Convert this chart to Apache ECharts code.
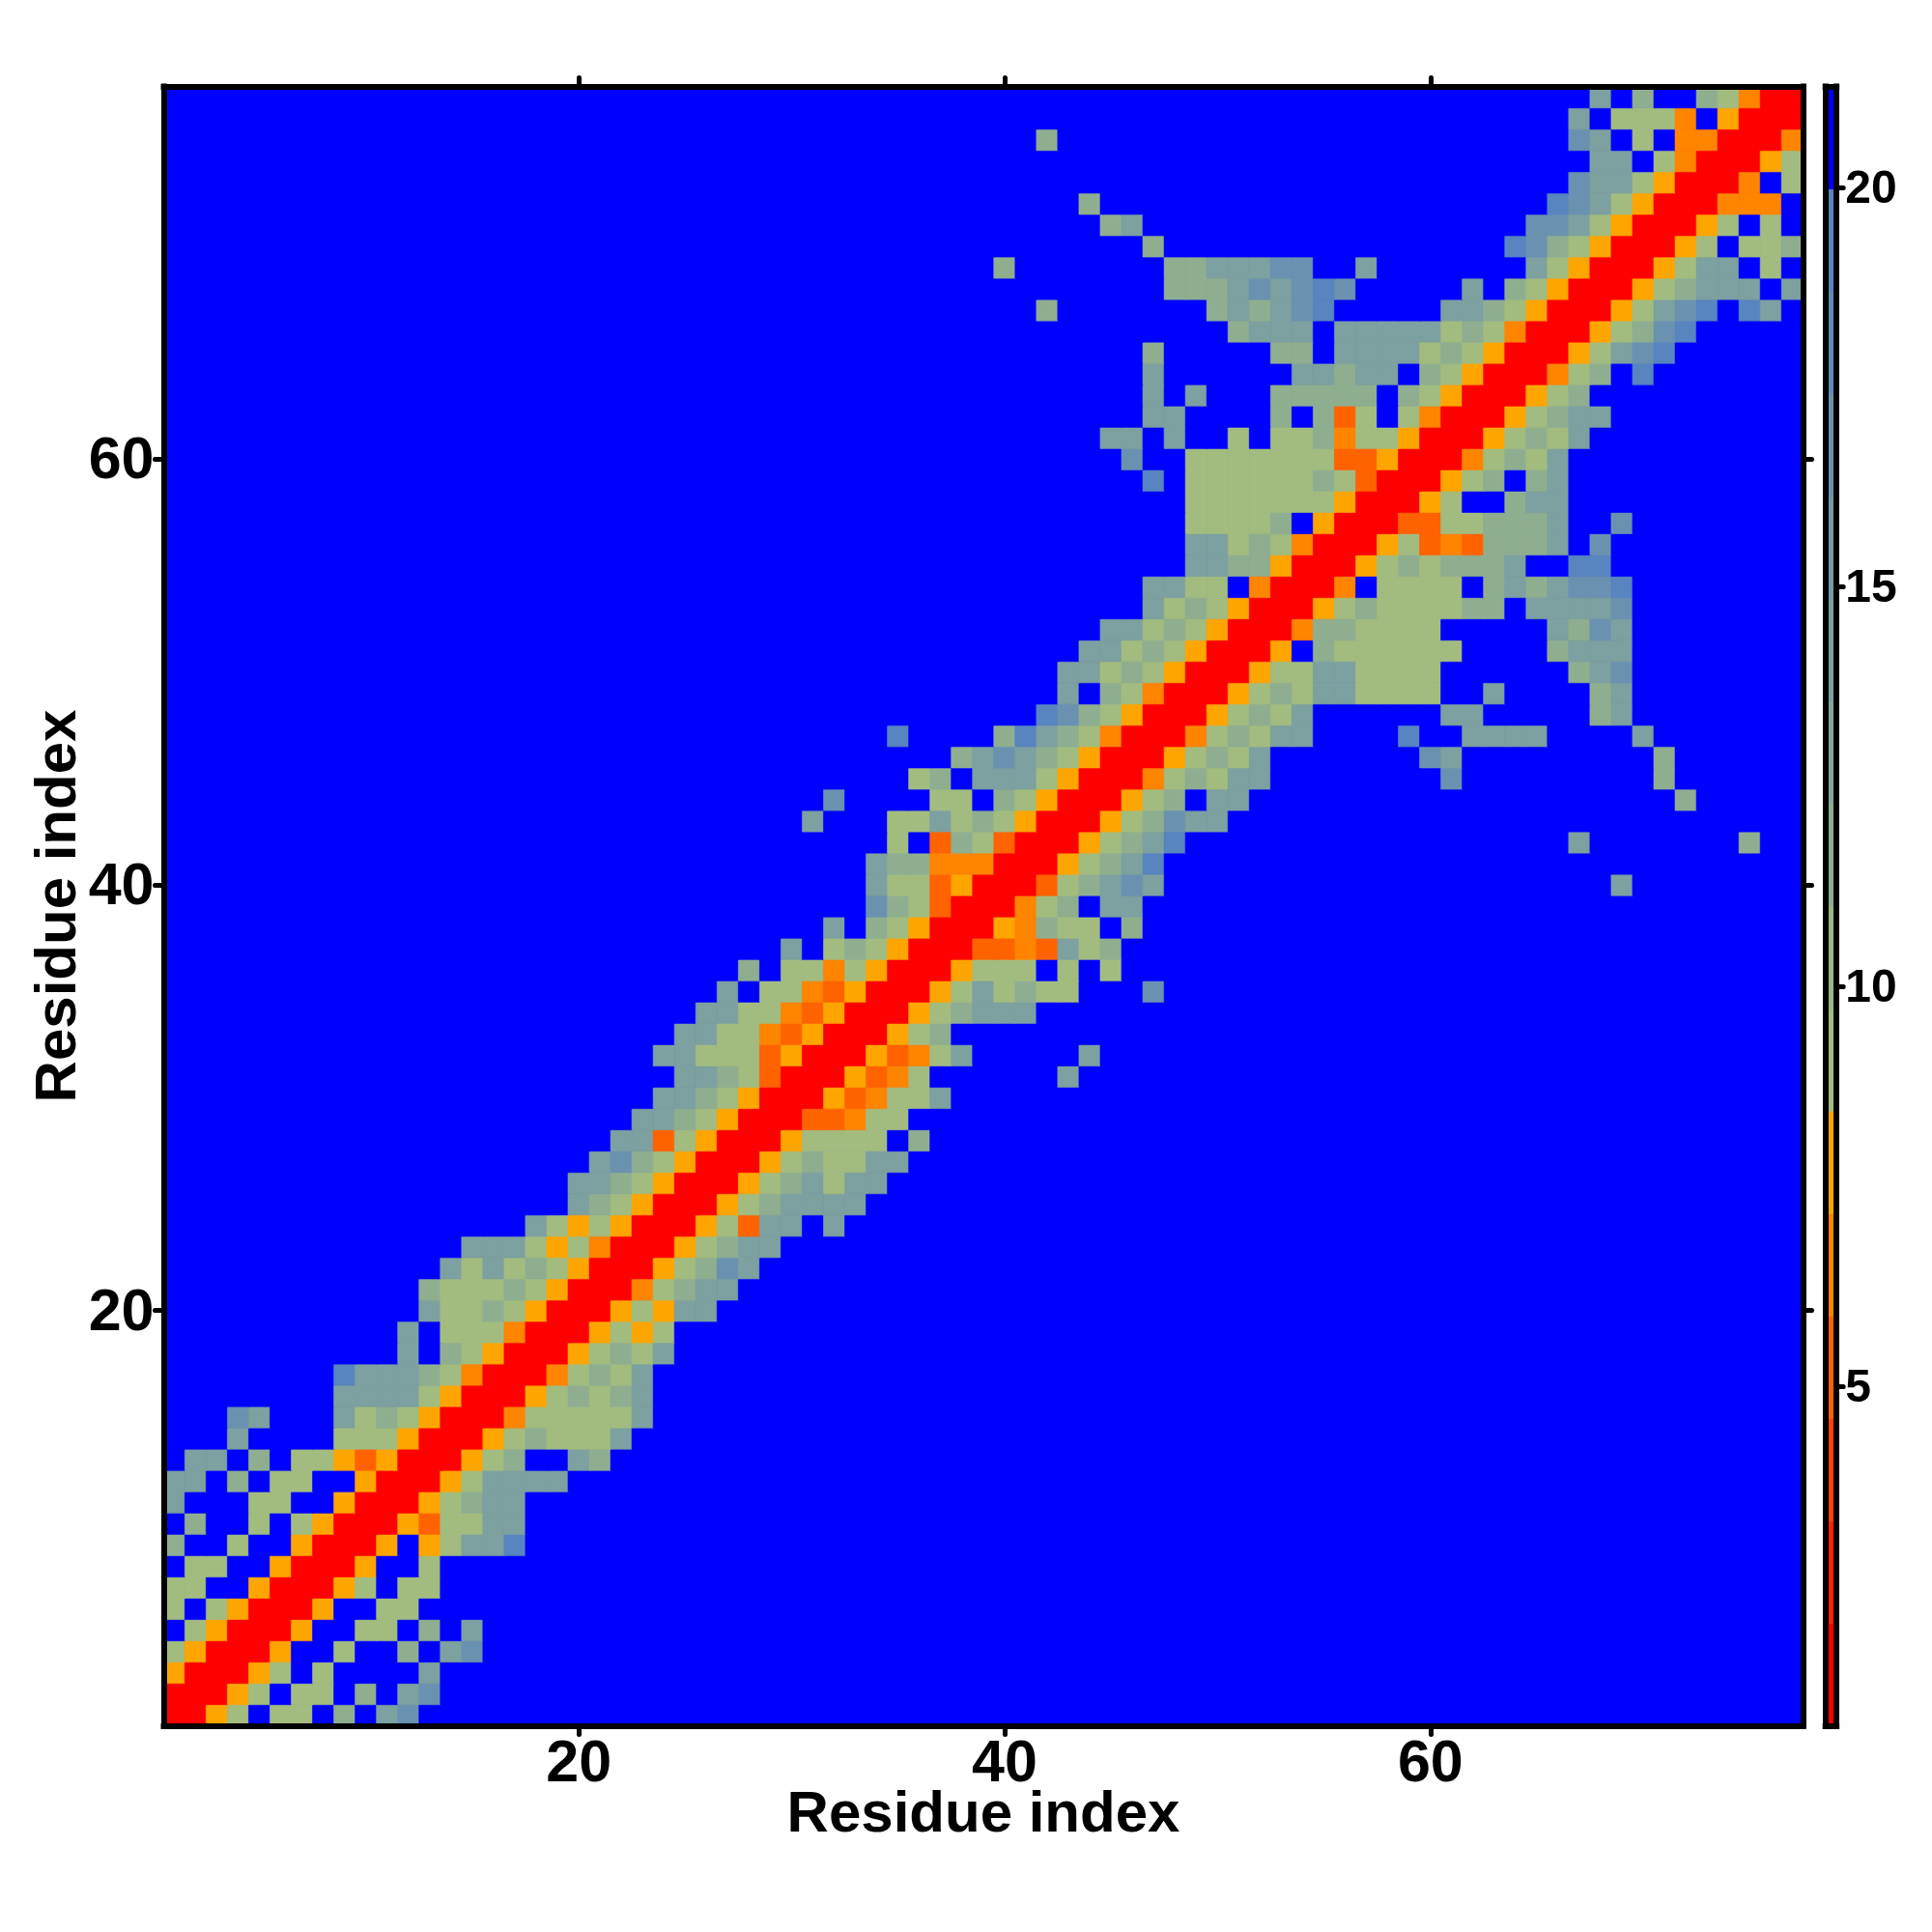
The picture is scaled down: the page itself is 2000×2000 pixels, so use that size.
<!DOCTYPE html>
<html><head><meta charset="utf-8">
<style>html,body{margin:0;padding:0;background:#fff}#c{width:2000px;height:2000px}</style>
<script src="https://cdn.jsdelivr.net/npm/echarts@6/dist/echarts.min.js"></script>
</head><body><div id="c"></div>
<script>
// Distance-map values are read in bins. Codes stand for one value per colour bin.
const codeValues = {r:1.4, D:5.2, O:6.5, o:7.8, a:9, b:11.6, c:14.2, d:16.8, e:19.3, '.':21};
const binEdges = [0.76,2.04,3.32,4.6,5.88,7.17,8.45,9.73,11,12.3,13.6,14.9,16.2,17.4,18.7,20,21.26];
const binColors = ['#ff0000','#ff2100','#ff4200','#ff6300','#ff8400','#ffa500',
  '#a2bc80','#99b588','#8fae90','#86a798','#7da0a0','#7499a8','#6a92b0','#618bb8','#5884c0','#0000ff'];
const residueCount = 77;
const tickResidues = [20,40,60];
const colorbarTicks = [5,10,15,20];
const axisTitle = 'Residue index';

// Each block: first column, top row, then rows from the top down.
const rowsA = ["............caabaorr","...........c.aaaOrrr","...........c.baorrro","........ecccbaOrrrOa","........ccccaorrroab",
"...dc...cabaorrrOaaa","...c....aaaorrroabaa",".cc.b.aaoDorrroab..c","cc.b.aa..orrroacccc.","c...aa..orrroabcc...",
".b..a.aorrroDaacc...","b..a..orrro.oacce...",".aa..orrro..a.......","aa..orrroa.aa.......","a.aorrro..aa........",
".aorrro..aa.b.c.....","aorrro..a..b.cd.....","orrroa.a....c.......","rrroa.aa.b.cd.......","rroa.aa.b.cd........"];
const rowsB = [".............ccbaDrr","............ccbaorrr","...........ccbaorrrD","..........ccDaorrroa",
".........cdbaorrroab","........ccbaorrroabc","........cbaorrroabcc","......caoaorrroaDcc.","...cccaoaOrrroabcc..",
"..cacabaorrroabdc...",".baaabaorrrOabcc....",".caabaorrroaocc.....","c.aaaOrrroaoa.......","c.baorrroabac.......",
"cbaOrrrOabac........","caorrroababc........","aorrrOaaaaac........","orrroabaaac.........","rrroab..cb..........","rroacccc............"];
const rowsC = ["............a.DbaDrr","...........cbbOOOrrr","...........caaDorrrD","...........dbaDrrrOa",".........c.baorrroOb",
".......c.abaorrrDDOD",".....b.aaOaorrroaaa.","....c.aaODorrroacaba","...ccaaODorrroabccc.","..ccaaODorrroab.....",
".ccaaaDorrroDOac....","..ccbaDrrroDOa......",".ccbaorrroDOaac.....","ccbaorrrDDOaa.......","cDaorrroaaaa.b......",
"baorrroabaacc.......","aorrroabcacc........","orrroabcccc.........","rrroaDcc.c..........","rroabcc............."];
const rowsD = [".............cabaorr","...........ccabaorrr","..........ccabaorrro",".........ccabaorrroa",".........c.baOrrroab",
"........edbaorrroaba",".e....becbaOrrrOabac","....bcdcbaorrroabac.","..ab.cccaorrrOabacc.","...aa.baorrroab.cc..",
".aacabaorrroabdcc...",".a.DbaDrrroabce.....","cbbOOOrrroabce......","caaDorrrDabcdc......","dbaDrrrOab.cc.......",
"baorrroObaa.b.......","aorrrDDODcab........","orrroaaa.a.a........","rrroacabaa...d......","rroabccc............"];
const rowsE = ["..c......ccbcc.baorr","..c.c...bbbbb.baorrr","..cc....b.bDa.aOrrro","cc.c..a.aabOaaorrroa",".d..aaaaaaaDDorrrOab",
"..e.aaaaaabaDrrroab.","....aaaaaaaorrroa..c","....aaaab.orrrDDaabc","....ccabaOrrroaDODbb","....ccbborrroababbbc",
"..ccaa.OrrrO.aaaa.bc","..cabaorrroabaaaabb.","ccabaorrrObbaaaa....","cabaorrro.baaaaaa...","abaorrroaaccaaaa....",
"baOrrroabaccaaaa..c.","aorrroabac......cc..","OrrrOabacc....e..ccc","rrroabac.......dc...","rrOabacc........d..."];
const rowsF = ["......b.............","....................","....................","........b...........",".........bc.........",
"...........b........","....b.......bbcccdd.","............bbbcdcde","......b.......bcbcde","...............bccc.","...........b.....bb."];
const rowsG = ["rDDaabbbc..d........","oaDODbbbc.d.........","ababbbc..ee.........","aaaa.bcbcdde........","aaaabb.ccccd........",
"aaa.....cbdc........","aaaa....bccc........","aaa......bcd........","aaa..c....bc........","...cc.....bc........",
".e..cccc....c.......","..dc.........b......","...d.........b......","..............b.....","....................",
".........c.......b..","....................","...........c........"];
const rowsH = ["..........c.b..baOrr",".........c.aaaO.orrr",".........dc.a.OOrrrO","..........cc.aOrrroa",".........dccaorrrO.a",
"........edcaorrrOOO.",".......ddcaorrroa.a.","......edbaorrroa.aab",".......caorrroacc.a.","....c.baorrroabccc.c",
"...ccbaorrroacde.ec.","cccabaOrrroabde.....","ccabaorrroacde......","c.baorrrOab.e.......",".baorrroab..........",
".aOrrroabcc.........","aorrroabac..........","orrrOabac...........","rrroab.bc...........","rroa..bcc..........."];
const looseCells = [[31,43,'c'],[32,44,'d'],[43,31,'c'],[44,32,'c'],[56,68,'d'],[57,69,'c'],[56,66,'c'],[57,66,'c'],[56,65,'c'],[57,65,'c']];
const blocks = [[1,20,rowsA],[12,31,rowsB],[23,42,rowsC],[34,53,rowsD],[45,64,rowsE],[36,75,rowsF],[58,57,rowsG],[58,77,rowsH]];

const codeGrid = [];
for (let r=0;r<residueCount;r++) codeGrid.push(new Array(residueCount).fill('.'));
blocks.forEach(([c0,rTop,rows])=>rows.forEach((s,k)=>{
  for(let i=0;i<s.length;i++){ const c=c0+i-1, rr=rTop-k-1; if(c<residueCount&&rr>=0) codeGrid[rr][c]=s[i]; }
}));
looseCells.forEach(([c,r,k])=>{codeGrid[r-1][c-1]=k;});
const colorOf=(v)=>{ for(let i=0;i<binColors.length;i++){ if(v>=binEdges[i]&&v<binEdges[i+1]) return binColors[i]; } return binColors[15]; };
const cell=(c,r,v)=>({value:[c,r,v],itemStyle:{borderColor:colorOf(v),borderWidth:0.6}});
const cells=[];
codeGrid.forEach((row,r)=>row.forEach((k,c)=>cells.push(cell(c,r,codeValues[k]))));
const residues = Array.from({length:residueCount},(_,i)=>String(i+1));
const barLevels = binColors.map((_,i)=>String(i));
const barCells = binColors.map((_,i)=>cell(0,i,(binEdges[i]+binEdges[i+1])/2));

const FONT='"Liberation Sans", Arial, sans-serif';
const BORDER={show:true,onZero:false,lineStyle:{color:'#000',width:6,cap:'square'}};
const isTick=(i)=>tickResidues.includes(i+1);
const TICK={show:true,alignWithLabel:true,interval:(i)=>isTick(i),length:9,lineStyle:{color:'#000',width:5,cap:'round'}};
const LAB={interval:(i)=>isTick(i),color:'#000',fontFamily:FONT,fontWeight:'bold',fontSize:61};
const NOLAB={show:false};
const NAME={color:'#000',fontFamily:FONT,fontWeight:'bold',fontSize:60};
const Z=20;

const chart=echarts.init(document.getElementById('c'),null,{renderer:'canvas',width:2000,height:2000});
chart.setOption({
  animation:false,
  backgroundColor:'#fff',
  grid:[
    {left:169.5,top:89.5,width:1697,height:1697,containLabel:false,outerBoundsMode:'none',show:true,backgroundColor:'#0000ff',borderWidth:0},
    {left:1889.7,top:89.5,width:11.5,height:1697,containLabel:false,outerBoundsMode:'none'}
  ],
  xAxis:[
    {type:'category',z:Z,gridIndex:0,position:'bottom',data:residues,axisLine:BORDER,axisTick:TICK,
     axisLabel:Object.assign({margin:10},LAB),splitLine:{show:false},
     name:axisTitle,nameLocation:'middle',nameGap:63,nameMoveOverlap:false,nameTextStyle:NAME},
    {type:'category',z:Z,gridIndex:0,position:'top',data:residues,axisLine:BORDER,axisTick:TICK,axisLabel:NOLAB,splitLine:{show:false}},
    {type:'category',z:Z,gridIndex:1,position:'bottom',data:[''],axisLine:BORDER,axisTick:{show:false},axisLabel:NOLAB,splitLine:{show:false}},
    {type:'category',z:Z,gridIndex:1,position:'top',data:[''],axisLine:BORDER,axisTick:{show:false},axisLabel:NOLAB,splitLine:{show:false}}
  ],
  yAxis:[
    {type:'category',z:Z,gridIndex:0,position:'left',data:residues,axisLine:BORDER,axisTick:TICK,
     axisLabel:Object.assign({margin:10,verticalAlign:'top',lineHeight:6},LAB),splitLine:{show:false},
     name:axisTitle,nameLocation:'middle',nameGap:78,nameMoveOverlap:false,nameTextStyle:NAME},
    {type:'category',z:Z,gridIndex:0,position:'right',data:residues,axisLine:BORDER,axisTick:TICK,axisLabel:NOLAB,splitLine:{show:false}},
    {type:'category',z:Z,gridIndex:1,position:'left',data:barLevels,axisLine:BORDER,axisTick:{show:false},axisLabel:NOLAB,splitLine:{show:false}},
    {type:'value',z:Z,gridIndex:1,position:'right',min:binEdges[0],max:binEdges[binEdges.length-1],axisLine:BORDER,
     axisTick:{show:true,length:7,customValues:colorbarTicks,lineStyle:{color:'#000',width:5,cap:'round'}},
     axisLabel:{show:true,customValues:colorbarTicks,margin:9,verticalAlign:'top',lineHeight:5,color:'#000',fontFamily:FONT,fontWeight:'bold',fontSize:48},
     splitLine:{show:false}}
  ],
  visualMap:{type:'piecewise',show:false,dimension:2,seriesIndex:[0,1],
    pieces:binColors.map((color,i)=>({gte:binEdges[i],lt:binEdges[i+1],color}))},
  series:[
    {type:'heatmap',xAxisIndex:0,yAxisIndex:0,data:cells,progressive:0,emphasis:{disabled:true}},
    {type:'heatmap',xAxisIndex:2,yAxisIndex:2,data:barCells,progressive:0,emphasis:{disabled:true}}
  ]
});
</script></body></html>
